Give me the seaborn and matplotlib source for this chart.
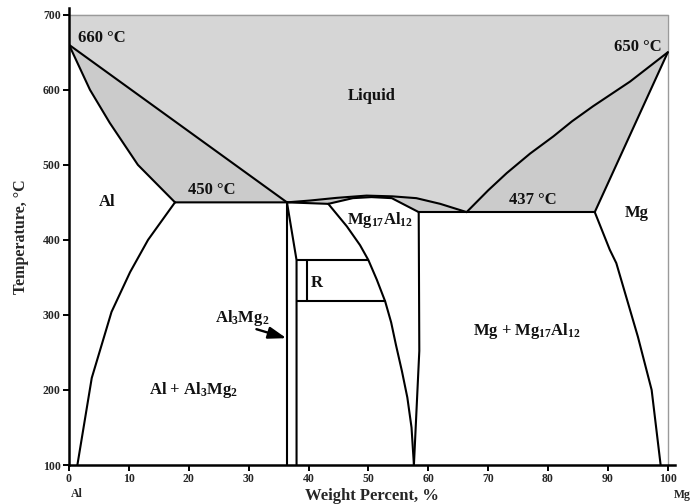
import matplotlib
matplotlib.use('Agg')
import matplotlib.pyplot as plt
import seaborn as sns

# ---- phase boundaries (weight % Mg, temperature °C) ----
al_solidus_x = [0, 3.5, 6.8, 11.5, 17.7]
al_solidus_t = [660, 600, 556, 500, 450]
al_solvus_x = [17.7, 13.2, 10.2, 7.1, 3.8, 1.4]
al_solvus_t = [450, 400, 357, 304, 216, 100]
liq_al_x = [0, 36.4]
liq_al_t = [660, 450]
eut1_x = [17.7, 36.4, 43.3]
eut1_t = [450, 450, 448]
b_left_x = [36.4, 36.4]
b_left_t = [450, 100]
b_right_x = [36.4, 38.0, 38.0]
b_right_t = [450, 373, 100]
r_top_x = [38.0, 50.0]
r_top_t = [373, 373]
r_bot_x = [38.0, 52.8]
r_bot_t = [318, 318]
r_inner_x = [39.7, 39.7]
r_inner_t = [373, 318]
g_left_x = [43.3, 46.4, 48.6, 50.0, 51.4, 52.8, 53.8, 54.6, 55.6, 56.5, 57.2, 57.6]
g_left_t = [448, 418, 393, 373, 347, 318, 290, 260, 225, 190, 150, 100]
g_right_x = [57.6, 58.5, 58.4]
g_right_t = [100, 252, 437]
dome_sol_x = [43.3, 47.4, 50.5, 53.9, 58.4]
dome_sol_t = [448, 455.6, 457, 455.6, 437]
dome_liq_x = [36.4, 40.2, 44.7, 49.7, 54.0, 58.0, 62.0, 66.4]
dome_liq_t = [450, 452.4, 456, 459, 458, 455.6, 448, 437]
eut2_x = [58.4, 87.8]
eut2_t = [437, 437]
liq_mg_x = [66.4, 70.0, 73.1, 77.0, 80.9, 84.0, 87.5, 93.7, 100]
liq_mg_t = [437, 466, 489, 515, 538, 558, 578, 611, 650]
mg_solidus_x = [87.8, 100]
mg_solidus_t = [437, 650]
mg_solvus_x = [87.8, 90.3, 91.4, 95.0, 97.3, 98.8]
mg_solvus_t = [437, 387, 369, 271, 200, 100]

x_ticks = [0, 10, 20, 30, 40, 50, 60, 70, 80, 90, 100]
y_ticks = [100, 200, 300, 400, 500, 600, 700]

sns.set_style('ticks')
plt.rcParams['font.family'] = ['Liberation Serif', 'DejaVu Serif']
plt.rcParams['mathtext.fontset'] = 'custom'
plt.rcParams['mathtext.rm'] = 'Liberation Serif:bold'
plt.rcParams['mathtext.bf'] = 'Liberation Serif:bold'
plt.rcParams['mathtext.it'] = 'Liberation Serif:bold'
plt.rcParams['mathtext.default'] = 'bf'

fig = plt.figure(figsize=(6.93, 5.04), dpi=100)
ax = fig.add_axes([69 / 693, 39 / 504, 606 / 693, 457 / 504])

LIQ = '#d6d6d6'
MUSH = '#cbcbcb'

# liquid region
liq_poly_x = [0] + liq_al_x + dome_liq_x[1:] + liq_mg_x[1:] + [100]
liq_poly_t = [700] + liq_al_t + dome_liq_t[1:] + liq_mg_t[1:] + [700]
ax.fill(liq_poly_x, liq_poly_t, color=LIQ, lw=0)
# Al + L
ax.fill(liq_al_x + al_solidus_x[::-1], liq_al_t + al_solidus_t[::-1], color=MUSH, lw=0)
# dome slivers
sl_x = dome_liq_x + [58.4] + dome_sol_x[::-1][1:] + [36.4]
sl_t = dome_liq_t + [437] + dome_sol_t[::-1][1:] + [450]
ax.fill(sl_x, sl_t, color=MUSH, lw=0)
# Mg + L
ax.fill(liq_mg_x + mg_solidus_x[::-1], liq_mg_t + mg_solidus_t[::-1], color=MUSH, lw=0)

# border lines (top / right)
sns.lineplot(x=[0, 100], y=[700, 700], sort=False, estimator=None, color='#9a9a9a', lw=1.0, ax=ax)
sns.lineplot(x=[100, 100], y=[100, 700], sort=False, estimator=None, color='#9a9a9a', lw=1.0, ax=ax)

curves = [
    (al_solidus_x, al_solidus_t), (al_solvus_x, al_solvus_t), (liq_al_x, liq_al_t),
    (eut1_x, eut1_t), (b_left_x, b_left_t), (b_right_x, b_right_t),
    (r_top_x, r_top_t), (r_bot_x, r_bot_t), (r_inner_x, r_inner_t),
    (g_left_x, g_left_t), (g_right_x, g_right_t), (dome_sol_x, dome_sol_t),
    (dome_liq_x, dome_liq_t), (eut2_x, eut2_t), (liq_mg_x, liq_mg_t),
    (mg_solidus_x, mg_solidus_t), (mg_solvus_x, mg_solvus_t),
]
for cx, ct in curves:
    sns.lineplot(x=cx, y=ct, sort=False, estimator=None, color='black', lw=1.5, ax=ax)

ax.set_xlim(0, 101.2)
ax.set_ylim(100, 709)
ax.set_xticks(x_ticks)
ax.set_yticks(y_ticks)
ax.tick_params(direction='out', length=4, width=1.4, labelsize=8.5, pad=2, color='black')
for lab in ax.get_xticklabels() + ax.get_yticklabels():
    lab.set_fontweight('bold')
sns.despine(ax=ax)
for s in ['left', 'bottom']:
    ax.spines[s].set_linewidth(1.8)
    ax.spines[s].set_color('black')

ax.set_xlabel('Weight Percent, %', fontsize=12, fontweight='bold', labelpad=2)
ax.set_ylabel('Temperature, °C', fontsize=11.5, fontweight='bold', labelpad=10)

kw = dict(fontsize=12, fontweight='bold', ha='center', va='center', color='#111111')
ax.text(5.4, 669, '660 °C', **kw)
ax.text(95.0, 657, '650 °C', **kw)
ax.text(50.5, 592, 'Liquid', **kw)
ax.text(6.3, 451, 'Al', **kw)
ax.text(23.8, 466, '450 °C', **kw)
ax.text(77.5, 453, '437 °C', **kw)
ax.text(94.8, 436, 'Mg', **kw)
ax.text(51.9, 427, r'Mg$_{17}$Al$_{12}$', **kw)
ax.text(41.3, 342, 'R', **kw)
ax.text(29.0, 296, r'Al$_{3}$Mg$_{2}$', **kw)
ax.text(20.8, 200, r'Al + Al$_{3}$Mg$_{2}$', **kw)
ax.text(76.4, 278, r'Mg + Mg$_{17}$Al$_{12}$', **kw)
ax.annotate('', xy=(36.3, 269), xytext=(31.3, 281),
            arrowprops=dict(arrowstyle='-|>,head_length=0.9,head_width=0.3',
                            color='black', lw=1.7, mutation_scale=12, shrinkA=0, shrinkB=0))

ax.text(1.3, 61, 'Al', fontsize=8.5, fontweight='bold', ha='center', va='center', clip_on=False)
ax.text(102.5, 60, 'Mg', fontsize=8.5, fontweight='bold', ha='center', va='center', clip_on=False)

fig.savefig('out.png', dpi=100)
